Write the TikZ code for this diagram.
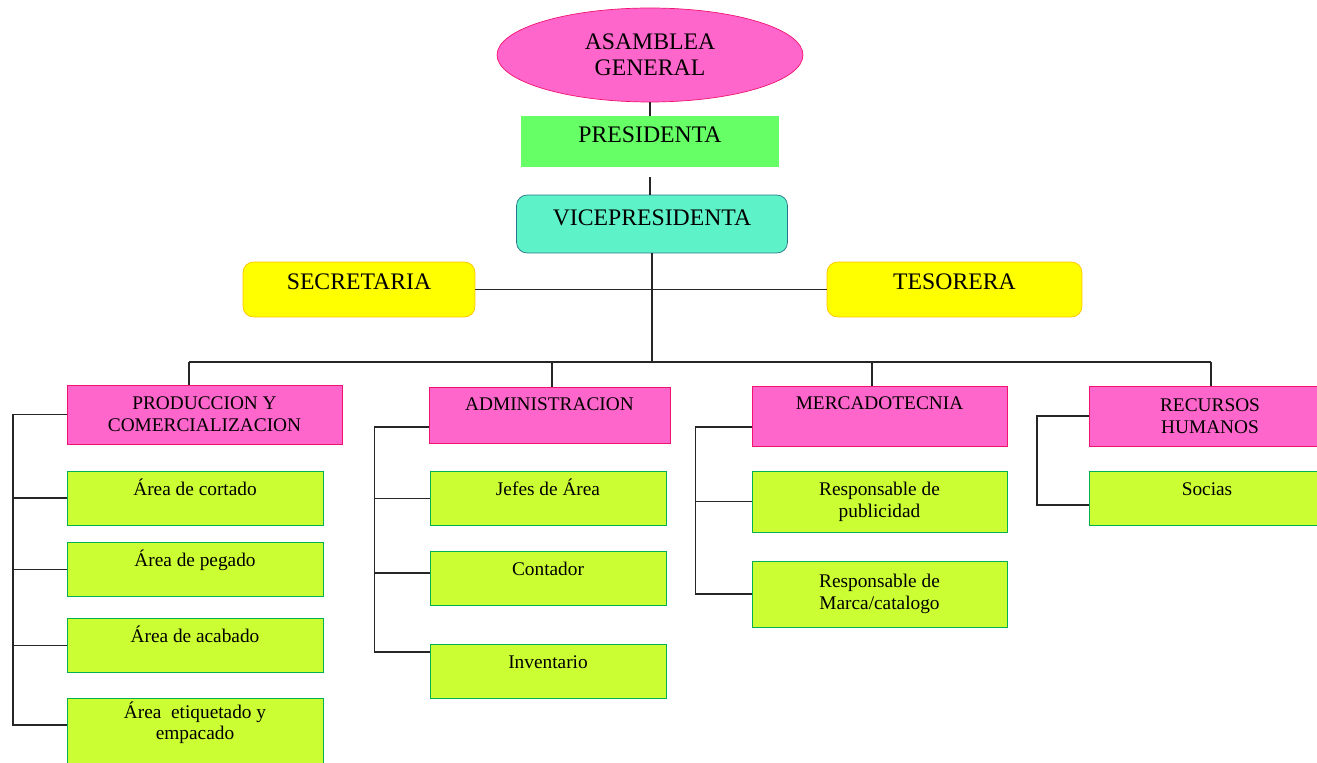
\documentclass[tikz,border=0pt]{standalone}
\usepackage{fontspec}
\setmainfont{Liberation Serif}
\usetikzlibrary{shapes.geometric}
\definecolor{RosaFill}{RGB}{255,102,204}
\definecolor{RosaEdge}{RGB}{240,20,110}
\definecolor{VerdePres}{RGB}{102,255,102}
\definecolor{TurqFill}{RGB}{94,242,200}
\definecolor{TurqEdge}{RGB}{40,115,135}
\definecolor{AmarFill}{RGB}{255,255,0}
\definecolor{AmarEdge}{RGB}{255,192,0}
\definecolor{LimaFill}{RGB}{204,255,51}
\definecolor{LimaEdge}{RGB}{0,176,80}
\newcommand{\orgtop}{\fontsize{13.5}{15}\selectfont}
\newcommand{\orgsmall}{\fontsize{11}{12.5}\selectfont}

\begin{document}
\begin{tikzpicture}[x=0.02cm, y=-0.02cm,
  head/.style={font=\orgtop, inner ysep=0pt},
  dept/.style={draw=RosaEdge, fill=RosaFill, font=\orgsmall, inner ysep=0pt},
  leaf/.style={draw=LimaEdge, fill=LimaFill, font=\orgsmall, inner ysep=0pt},
  leafone/.style={leaf, text height=0.48cm, text depth=0.6cm},
  link/.style={line width=0.8pt, black!85}]
  \useasboundingbox (0,0) rectangle (1317,763);
  \clip (0,0) rectangle (1317,763);

  % direccion
  \node[ellipse, draw=RosaEdge, fill=RosaFill, font=\orgtop, align=center,
        minimum width=6.12cm, minimum height=1.88cm, inner sep=0pt]
        (asamblea) at (650,55) {ASAMBLEA\\GENERAL};
  \node[head, fill=VerdePres, minimum width=5.18cm,
        text height=0.53cm, text depth=0.49cm] (presidenta) at (650,141.5) {PRESIDENTA};
  \node[head, draw=TurqEdge, fill=TurqFill, rounded corners=6pt, minimum width=5.42cm,
        text height=0.61cm, text depth=0.55cm] (vice) at (652,224) {VICEPRESIDENTA};
  \node[head, draw=AmarEdge, fill=AmarFill, rounded corners=6pt, minimum width=4.64cm,
        text height=0.56cm, text depth=0.54cm] (secretaria) at (359,289.5) {SECRETARIA};
  \node[head, draw=AmarEdge, fill=AmarFill, rounded corners=6pt, minimum width=5.1cm,
        text height=0.56cm, text depth=0.54cm] (tesorera) at (954.5,289.5) {TESORERA};

  % departamentos
  \node[dept, align=center, minimum width=5.5cm, minimum height=1.18cm]
        (produccion) at (204.5,414.5) {PRODUCCION Y\\COMERCIALIZACION};
  \node[dept, minimum width=4.82cm, text height=0.46cm, text depth=0.66cm]
        (administracion) at (549.5,415) {ADMINISTRACION};
  \node[dept, minimum width=5.1cm, text height=0.46cm, text depth=0.74cm]
        (mercadotecnia) at (879.5,416) {MERCADOTECNIA};
  \node[dept, align=center, minimum width=4.84cm, minimum height=1.2cm]
        (rrhh) at (1210,416) {RECURSOS\\HUMANOS};

  % areas
  \node[leafone, minimum width=5.12cm] (cortado) at (195,498) {Área de cortado};
  \node[leafone, minimum width=5.12cm] (pegado) at (195,569.5) {Área de pegado};
  \node[leafone, minimum width=5.12cm] (acabado) at (195,645.5) {Área de acabado};
  \node[leaf, minimum width=5.12cm, text height=0.4cm, text depth=1.08cm]
        (etiquetado) at (195,735) {\parbox[t]{4.8cm}{\centering Área ~etiquetado y\\empacado}};
  \node[leafone, minimum width=4.72cm] (jefes) at (548,498.5) {Jefes de Área};
  \node[leafone, minimum width=4.72cm] (contador) at (548,578.5) {Contador};
  \node[leafone, minimum width=4.72cm] (inventario) at (548,671) {Inventario};
  \node[leaf, align=center, minimum width=5.1cm, minimum height=1.22cm]
        (publicidad) at (879.5,501.5) {Responsable de\\publicidad};
  \node[leaf, align=center, minimum width=5.1cm, minimum height=1.32cm]
        (marca) at (879.5,594) {Responsable de\\Marca/catalogo};
  \node[leafone, minimum width=4.72cm] (socias) at (1207,498.5) {Socias};

  % lineas de mando
  \coordinate (busP) at (189,362);
  \coordinate (busA) at (552,362);
  \coordinate (busM) at (872,362);
  \coordinate (busR) at (1211,362);
  \coordinate (railP) at (13,0);
  \coordinate (railA) at (375,0);
  \coordinate (railM) at (696,0);
  \coordinate (railR) at (1037,0);

  \draw[link] (asamblea) -- (presidenta);
  \draw[link] ([yshift=-0.2cm]presidenta.south) -- (presidenta.south |- vice.north);
  \draw[link] (vice.south) -- (vice.south |- busA);
  \draw[link] (secretaria) -- (tesorera);
  \draw[link] (busP) -- (busR);
  \foreach \d/\b in {produccion/busP, administracion/busA, mercadotecnia/busM, rrhh/busR}
    \draw[link] (\b) -- (\b |- \d.north);

  \draw[link] (produccion.west) -- (produccion.west -| railP)
              |- ([yshift=0.2cm]etiquetado.west);
  \foreach \n in {cortado, pegado, acabado}
    \draw[link] (\n.west) -- (\n.west -| railP);

  \draw[link] ([yshift=-0.24cm]administracion.west) -- ++(-54,0)
              |- ([yshift=0.38cm]inventario.west);
  \draw[link] (jefes.west) -- (jefes.west -| railA);
  \draw[link] ([yshift=0.11cm]contador.west) -- ++(-55,0);

  \draw[link] ([yshift=-0.22cm]mercadotecnia.west) -- ++(-56,0) |- (marca.west);
  \draw[link] (publicidad.west) -- (publicidad.west -| railM);

  \draw[link] (rrhh.west) -- (rrhh.west -| railR) |- ([yshift=-0.13cm]socias.west);
\end{tikzpicture}
\end{document}
